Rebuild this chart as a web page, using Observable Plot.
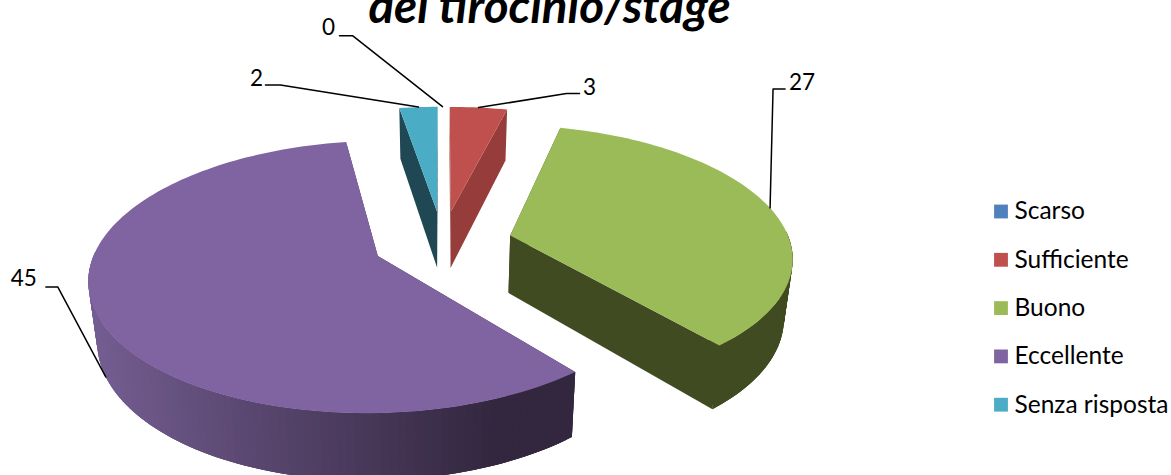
<!DOCTYPE html>
<html>
<head>
<meta charset="utf-8">
<script src="https://cdn.jsdelivr.net/npm/d3@7"></script>
<script src="https://cdn.jsdelivr.net/npm/@observablehq/plot@0.6"></script>
<style>
html,body{margin:0;padding:0;background:#fff;overflow:hidden}
svg{display:block}
</style>
</head>
<body>
<div id="chart"></div>
<script>
const categories = ["Scarso", "Sufficiente", "Buono", "Eccellente", "Senza risposta"];
const values = [0, 3, 27, 45, 2];
const topColors = ["#4F81BD", "#C0504D", "#9BBB59", "#8064A2", "#4BACC6"];
const sideColors = ["#2F4D71", "#963C3A", "#404B22", "#33273F", "#1F4754"];
const titleText = "del tirocinio/stage";

// 3-D pie projection settings
const explode = 0.25, persp = 0.15;
const topPlane = {cx: 442, cy: 242, a: 280, b: 129};
const basePlane = {cx: 442, cy: 300, a: 273, b: 136};
const project = (plane, X, Y) => {
  const w = 1 / (1 + persp * Y);
  return {x: plane.cx + plane.a * X * w, y: plane.cy - plane.b * Y * w};
};

const total = d3.sum(values);
let cum = 0;
const slices = values.map((v, i) => {
  const start = cum / total * 2 * Math.PI;
  cum += v;
  const end = cum / total * 2 * Math.PI;
  const mid = (start + end) / 2;
  return {i, v, start, end, mid, ox: explode * Math.sin(mid), oy: explode * Math.cos(mid)};
});
const rim = (s, plane, t) => project(plane, s.ox + Math.sin(t), s.oy + Math.cos(t));
const apex = (s, plane) => project(plane, s.ox, s.oy);
const toward = (p, q, f) => ({x: p.x + (q.x - p.x) * f, y: p.y + (q.y - p.y) * f});

const wallShade = d3.interpolateRgb("#745D91", "#33273F");
const polys = [];
let pid = 0;
const addPoly = (pts, color) => {
  const id = pid++;
  pts.forEach(p => polys.push({x: p.x, y: p.y, id, color}));
};
const wallQuad = (s, a, b, color) =>
  addPoly([rim(s, topPlane, a), rim(s, topPlane, b), rim(s, basePlane, b), rim(s, basePlane, a)], color);

for (const k of [1, 4, 2, 3]) {
  const s = slices[k];
  if (!s.v) continue;
  const n = Math.max(2, Math.ceil((s.end - s.start) / (Math.PI / 120)));
  const ts = d3.range(n + 1).map(j => s.start + (s.end - s.start) * j / n);
  const vis = ts.filter(t => Math.cos(t) < 0.05);
  // Bands are painted from the far end, each overlapping the previous one: no seams
  for (let j = vis.length - 2; j >= 0; j--) {
    const x = rim(s, basePlane, vis[j]).x;
    const col = k === 3 ? wallShade(Math.min(1, Math.max(0, (x - 105) / 400))) : sideColors[k];
    if (j < vis.length - 2) wallQuad(s, vis[j], vis[j + 2], col);
    wallQuad(s, vis[j], vis[j + 1], col);
  }
  for (const t of [s.start, s.end]) {
    addPoly([apex(s, topPlane), rim(s, topPlane, t), rim(s, basePlane, t), apex(s, basePlane)], sideColors[k]);
  }
  if (Math.cos(s.end) < 0 && k !== 3) {
    // Closes the hairline where the outer wall meets the cut face
    const i0 = ts[n - 2];
    addPoly([rim(s, topPlane, i0), rim(s, basePlane, i0),
      toward(rim(s, basePlane, s.end), apex(s, basePlane), 0.05),
      toward(rim(s, topPlane, s.end), apex(s, topPlane), 0.05)], sideColors[k]);
  }
  addPoly([apex(s, topPlane), ...ts.map(t => rim(s, topPlane, t))], topColors[k]);
}

// Leader lines: anchored on the slice rim, offsets are layout only
const leaderLayout = [
  {k: 0, plane: topPlane, knee: [-90, -71], end: [-103, -71], text: [-114, -79]},
  {k: 4, plane: topPlane, knee: [-138, -22], end: [-153, -22], text: [-162, -28]},
  {k: 1, plane: topPlane, knee: [88, -14], end: [101, -14], text: [111, -20]},
  {k: 2, plane: topPlane, knee: [3, -119], end: [15, -119], text: [32, -125]},
  {k: 3, plane: basePlane, knee: [-48, -90], end: [-60, -90], text: [-82, -98]}
];
const leaderPts = [], labels = [];
leaderLayout.forEach((l, id) => {
  const s = slices[l.k];
  const a = rim(s, l.plane, s.mid);
  leaderPts.push({id, x: a.x, y: a.y}, {id, x: a.x + l.knee[0], y: a.y + l.knee[1]}, {id, x: a.x + l.end[0], y: a.y + l.end[1]});
  labels.push({x: a.x + l.text[0], y: a.y + l.text[1], text: String(s.v)});
});

const legend = categories.map((c, i) => ({c, i, color: topColors[i]}));
const legendY = d => 211 + d.i * 48.3;

const FONT = "Lato, 'Open Sans', sans-serif";
const chart = Plot.plot({
  width: 1171, height: 475,
  margin: 0,
  x: {type: "identity", axis: null},
  y: {type: "identity", axis: null},
  color: {type: "identity"},
  style: {background: "#fff", fontFamily: FONT},
  marks: [
    Plot.line(polys, {x: "x", y: "y", z: "id", fill: "color", stroke: "none", curve: "linear"}),
    Plot.line(leaderPts, {x: "x", y: "y", z: "id", stroke: "#000", strokeWidth: 1.5, curve: "linear"}),
    Plot.text(labels, {x: "x", y: "y", text: "text", fontSize: 22.5, fill: "#000", fontFamily: FONT}),
    Plot.dot(legend, {x: () => 1000.5, y: legendY, symbol: "square", r: 7.8, fill: "color", stroke: null}),
    Plot.text(legend, {x: () => 1014, y: legendY, text: "c", textAnchor: "start", fontSize: 24.5, fill: "#000", fontFamily: FONT}),
    Plot.text([titleText], {x: () => 549, y: () => 7.5, text: d => d, fontSize: 47.6, fontWeight: "bold", fontStyle: "italic", fill: "#000", fontFamily: FONT})
  ]
});
document.getElementById("chart").append(chart);
</script>
</body>
</html>
